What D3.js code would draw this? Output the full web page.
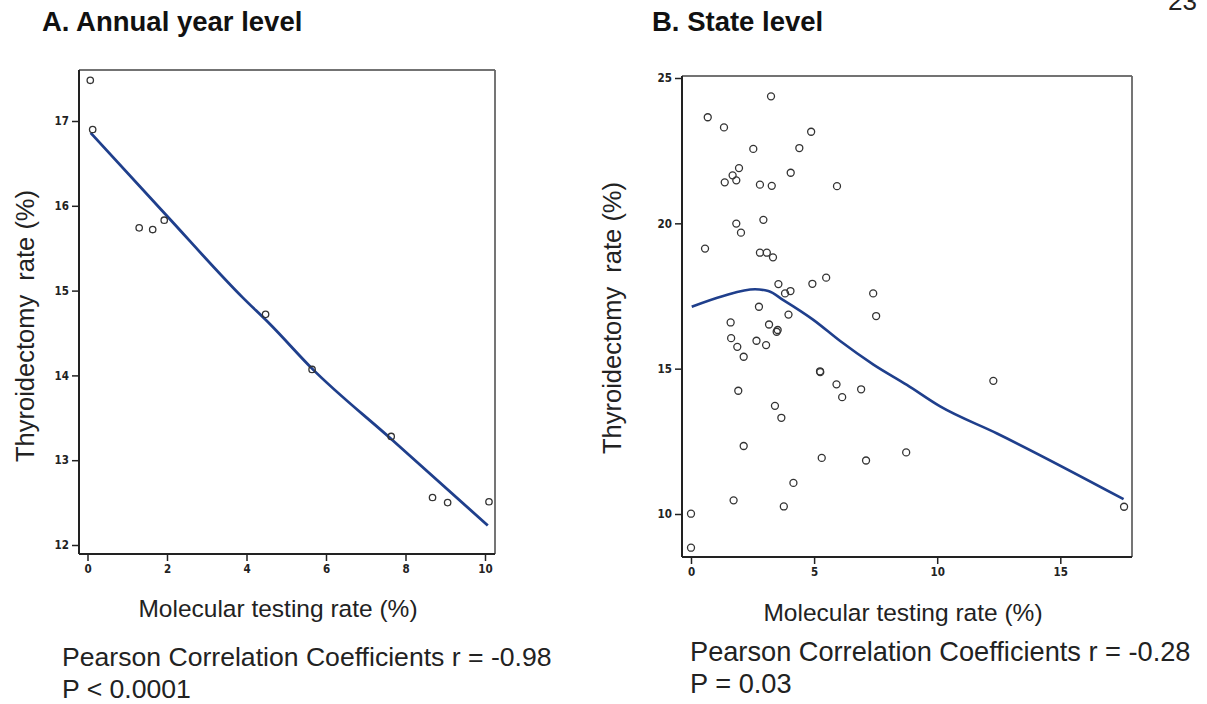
<!DOCTYPE html>
<html><head><meta charset="utf-8">
<script src="https://cdn.jsdelivr.net/npm/d3@7"></script>
<style>
body{margin:0;background:#fff;}
svg{display:block;}
.tick text{font-family:"Liberation Sans Narrow","DejaVu Sans Condensed",sans-serif;font-weight:bold;font-size:11.5px;fill:#222;}
.tick line{stroke:#222;stroke-width:1.5px;}
</style></head>
<body>
<svg id="c" width="1207" height="704"></svg>
<script>
// ---- Panel A: annual year level ----
const annualX = [0.07,0.13,1.30,1.64,1.93,4.48,5.65,7.64,8.68,9.06,10.10];
const annualY = [17.48,16.90,15.74,15.72,15.83,14.72,14.07,13.28,12.56,12.50,12.51];
const annualFitX = [0.08,2.0,3.9,4.6,5.65,7.64,10.07];
const annualFitY = [16.86,15.88,14.92,14.60,14.08,13.25,12.23];
const annualXTicks = [0,2,4,6,8,10];
const annualYTicks = [12,13,14,15,16,17];

// ---- Panel B: state level ----
const stateX = [0.68,1.34,3.25,4.88,2.53,4.40,1.95,1.69,1.37,1.84,4.05,2.80,3.28,5.93,2.94,1.84,2.03,0.57,2.80,3.08,3.33,3.55,4.93,5.49,4.04,3.82,7.40,2.76,3.96,7.52,
  1.61,3.17,3.48,3.52,1.63,2.66,1.88,3.05,2.14,5.24,5.25,5.91,6.14,6.91,1.92,3.41,3.67,2.14,5.31,7.11,8.74,4.16,1.73,3.77,0.00,0.00,12.28,17.59];
const stateY = [23.65,23.30,24.37,23.15,22.56,22.59,21.90,21.65,21.41,21.48,21.74,21.33,21.29,21.28,20.12,19.99,19.68,19.13,18.99,18.99,18.83,17.91,17.92,18.13,17.67,17.59,17.59,17.13,16.86,16.81,
  16.59,16.52,16.27,16.33,16.05,15.96,15.75,15.81,15.41,14.91,14.88,14.46,14.02,14.29,14.24,13.72,13.31,12.34,11.93,11.84,12.12,11.07,10.47,10.26,10.01,8.84,14.58,10.25];
const stateFitX = [0.03,1.31,2.60,3.14,3.75,4.97,6.06,7.41,8.77,10.12,12.43,17.57];
const stateFitY = [17.13,17.50,17.73,17.67,17.36,16.68,15.95,15.14,14.44,13.70,12.77,10.51];
const stateXTicks = [0,5,10,15];
const stateYTicks = [10,15,20,25];

const titles = ["A. Annual year level","B. State level"];
const xLabel = "Molecular testing rate (%)";
const yLabel = "Thyroidectomy  rate (%)";
const statA = ["Pearson Correlation Coefficients r = -0.98","P < 0.0001"];
const statB = ["Pearson Correlation Coefficients r = -0.28","P = 0.03"];

const svg = d3.select("#c");
const lineColor = "#1f3f8c";
const FONT = "Liberation Sans, Arial, sans-serif";

function panel(cfg){
  const g = svg.append("g");
  const x = d3.scaleLinear().domain(cfg.xDom).range(cfg.xRange);
  const y = d3.scaleLinear().domain(cfg.yDom).range(cfg.yRange);
  const F = cfg.frame; // [left, top, right, bottom]
  g.append("line").attr("x1",F[0]).attr("x2",F[2]).attr("y1",F[1]).attr("y2",F[1]).attr("stroke","#444").attr("stroke-width",1.6);
  g.append("line").attr("x1",F[2]).attr("x2",F[2]).attr("y1",F[1]).attr("y2",F[3]).attr("stroke","#666").attr("stroke-width",1.8);
  g.append("line").attr("x1",F[0]).attr("x2",F[0]).attr("y1",F[1]).attr("y2",F[3]).attr("stroke","#222").attr("stroke-width",2);
  g.append("line").attr("x1",F[0]).attr("x2",F[2]).attr("y1",F[3]).attr("y2",F[3]).attr("stroke","#222").attr("stroke-width",2);
  const ay = g.append("g").attr("transform",`translate(${F[0]},0)`)
    .call(d3.axisLeft(y).tickValues(cfg.yTicks).tickFormat(d3.format("d")).tickSize(7).tickPadding(3));
  ay.select(".domain").remove();
  const ax = g.append("g").attr("transform",`translate(0,${F[3]})`)
    .call(d3.axisBottom(x).tickValues(cfg.xTicks).tickFormat(d3.format("d")).tickSize(7).tickPadding(4));
  ax.select(".domain").remove();
  const pts = cfg.fitX.map((v,i)=>[v,cfg.fitY[i]]);
  g.append("path").datum(pts)
    .attr("d", d3.line().x(d=>x(d[0])).y(d=>y(d[1])).curve(d3.curveMonotoneX))
    .attr("fill","none").attr("stroke",lineColor).attr("stroke-width",cfg.lw);
  g.selectAll("circle.p").data(cfg.px.map((v,i)=>[v,cfg.py[i]])).enter().append("circle")
    .attr("cx",d=>x(d[0])).attr("cy",d=>y(d[1])).attr("r",cfg.r)
    .attr("fill","none").attr("stroke","#333").attr("stroke-width",1.3);
  svg.append("text").attr("x",cfg.titleX).attr("y",31).text(cfg.title)
    .attr("font-family",FONT).attr("font-weight","bold").attr("font-size",27.5).attr("fill","#111");
  svg.append("text").attr("transform",`translate(${cfg.yLabX},${cfg.yLabY}) rotate(-90)`)
    .attr("text-anchor","middle").attr("dominant-baseline","central").style("white-space","pre").text(yLabel)
    .attr("font-family",FONT).attr("font-size",25.5).attr("fill","#222");
  svg.append("text").attr("x",cfg.xLabX).attr("y",cfg.xLabY).attr("text-anchor","middle").text(xLabel)
    .attr("font-family",FONT).attr("font-size",24.5).attr("fill","#222");
  cfg.stat.forEach((s,i)=>{
    svg.append("text").attr("x",cfg.statX).attr("y",cfg.statY + i*32).text(s)
      .attr("font-family",FONT).attr("font-size",cfg.statSize).attr("fill","#222");
  });
}

panel({xDom:[0,10], xRange:[87.5,485], yDom:[12,17], yRange:[545,121], frame:[79,70,495,554],
  xTicks:annualXTicks, yTicks:annualYTicks, fitX:annualFitX, fitY:annualFitY, px:annualX, py:annualY,
  lw:2.8, r:3.2, title:titles[0], titleX:42, yLabX:25, yLabY:326, xLabX:278, xLabY:617, stat:statA, statX:62, statY:666, statSize:26.6});

panel({xDom:[0,15], xRange:[691,1060.3], yDom:[10,25], yRange:[514,78], frame:[682,76,1132,557],
  xTicks:stateXTicks, yTicks:stateYTicks, fitX:stateFitX, fitY:stateFitY, px:stateX, py:stateY,
  lw:2.6, r:3.5, title:titles[1], titleX:652, yLabX:612, yLabY:318, xLabX:903, xLabY:621, stat:statB, statX:690, statY:661, statSize:27.2});

svg.append("text").attr("x",1168).attr("y",10).text("23")
  .attr("font-family",FONT).attr("font-size",26).attr("fill","#222");
</script>
</body></html>
